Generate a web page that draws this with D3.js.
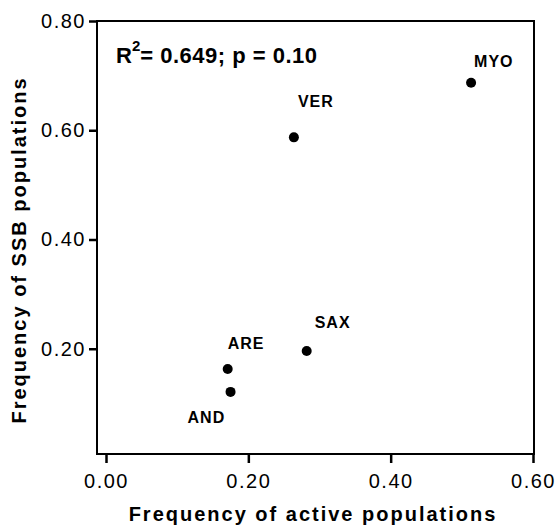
<!DOCTYPE html>
<meta charset="utf-8">
<script src="https://d3js.org/d3.v7.min.js"></script>
<style>
  body { margin: 0; background: #fff; }
  text { font-family: "Liberation Sans", Arial, sans-serif; fill: #000; }
</style>
<div id="my_dataviz"></div>
<script>

// data
var codes = ["MYO", "VER", "SAX", "ARE", "AND"];
var activeFreq = [0.513, 0.264, 0.282, 0.171, 0.175];
var ssbFreq = [0.687, 0.587, 0.196, 0.163, 0.121];
var xTicks = [0, 0.2, 0.4, 0.6];
var yTicks = [0.2, 0.4, 0.6, 0.8];
var statText = ["R", "2", "= 0.649; p = 0.10"];

// label placement around each dot (pixels)
var labelOffset = {
  MYO: [3, -16], VER: [4, -30], SAX: [8, -23], ARE: [0, -20], AND: [-43, 31]
};

var width = 558, height = 525;

var svg = d3.select("#my_dataviz")
  .append("svg")
    .attr("width", width)
    .attr("height", height);

var x = d3.scaleLinear().domain([0, 0.6]).range([106, 533]);
var y = d3.scaleLinear().domain([0, 0.8]).range([458, 21]);

// plot frame
svg.append("rect")
  .attr("x", 97).attr("y", y(0.8))
  .attr("width", 534 - 97).attr("height", 454 - y(0.8))
  .attr("fill", "none")
  .attr("stroke", "#000")
  .attr("stroke-width", 2);

// y axis
var yAxis = svg.append("g")
  .attr("transform", "translate(97,0)")
  .call(d3.axisLeft(y).tickValues(yTicks).tickFormat(d3.format(".2f")).tickSize(8).tickPadding(3));
yAxis.select(".domain").remove();
yAxis.selectAll("line").attr("stroke", "#000").attr("stroke-width", 2.5);
yAxis.selectAll("text")
  .attr("font-size", 20).attr("font-family", "Liberation Sans, Arial, sans-serif")
  .style("letter-spacing", "1.5px").attr("fill", "#000");

// x axis (ticks sit just under the frame)
var xAxis = svg.append("g")
  .attr("transform", "translate(0,455)")
  .call(d3.axisBottom(x).tickValues(xTicks).tickFormat(d3.format(".2f")).tickSize(8).tickPadding(11));
xAxis.select(".domain").remove();
xAxis.selectAll("line").attr("stroke", "#000").attr("stroke-width", 2.5);
xAxis.selectAll("text")
  .attr("font-size", 20).attr("font-family", "Liberation Sans, Arial, sans-serif")
  .style("letter-spacing", "1.5px").attr("fill", "#000");

// axis titles
svg.append("text")
  .attr("x", 313).attr("y", 521)
  .attr("text-anchor", "middle")
  .attr("font-weight", "bold").attr("font-size", 20)
  .style("letter-spacing", "2px")
  .text("Frequency of active populations");

svg.append("text")
  .attr("transform", "translate(26,250) rotate(-90)")
  .attr("text-anchor", "middle")
  .attr("font-weight", "bold").attr("font-size", 20)
  .style("letter-spacing", "2px")
  .text("Frequency of SSB populations");

// R2 annotation
var stat = svg.append("text")
  .attr("x", 116).attr("y", 63)
  .attr("font-weight", "bold").attr("font-size", 22);
stat.append("tspan").text(statText[0]);
stat.append("tspan").attr("dy", -12).attr("font-size", 15).text(statText[1]);
stat.append("tspan").attr("dy", 12).style("letter-spacing", "0.5px").text(statText[2]);

// dots and labels
var pts = codes.map(function(c, i) { return {code: c, ax: activeFreq[i], ssb: ssbFreq[i]}; });

svg.append("g")
  .selectAll("circle")
  .data(pts)
  .enter()
  .append("circle")
    .attr("cx", function(d) { return x(d.ax); })
    .attr("cy", function(d) { return y(d.ssb); })
    .attr("r", 5)
    .attr("fill", "#000");

svg.append("g")
  .selectAll("text")
  .data(pts)
  .enter()
  .append("text")
    .attr("x", function(d) { return x(d.ax) + labelOffset[d.code][0]; })
    .attr("y", function(d) { return y(d.ssb) + labelOffset[d.code][1]; })
    .attr("font-weight", "bold")
    .attr("font-size", 16)
    .style("letter-spacing", "1px")
    .text(function(d) { return d.code; });

</script>
